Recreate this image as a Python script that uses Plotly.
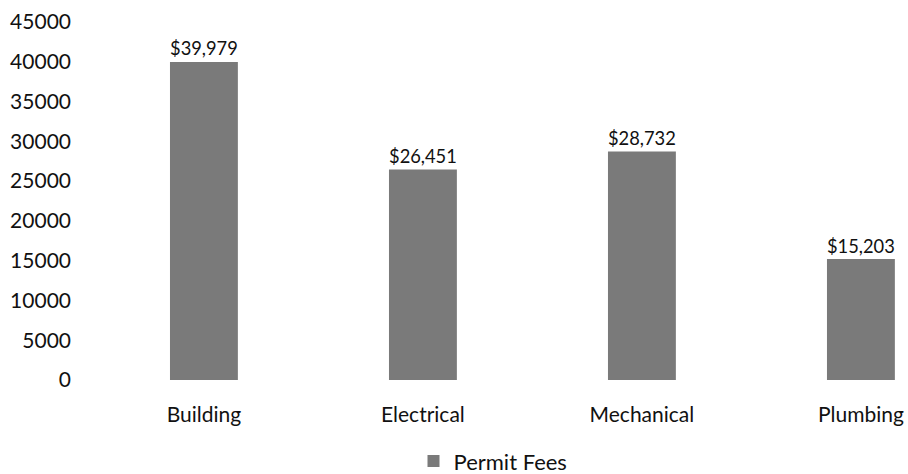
import plotly.graph_objects as go

categories = ["Building", "Electrical", "Mechanical", "Plumbing"]
permit_fees = [39979, 26451, 28732, 15203]
y_ticks = [0, 5000, 10000, 15000, 20000, 25000, 30000, 35000, 40000, 45000]

FONT = "Lato, Carlito, Calibri, sans-serif"

fig = go.Figure()
fig.add_trace(go.Bar(
    x=categories,
    y=permit_fees,
    name="Permit Fees",
    marker=dict(color="#7a7a7a", line=dict(width=0)),
    texttemplate="$%{y:,}",
    textposition="outside",
    textfont=dict(size=21, color="#111111", family=FONT),
    cliponaxis=False,
))

fig.update_layout(
    width=908, height=474,
    margin=dict(l=78, r=0, t=22, b=94, autoexpand=False),
    paper_bgcolor="white", plot_bgcolor="white",
    font=dict(family=FONT, size=21, color="#111111"),
    bargap=0.69,
    showlegend=True,
    legend=dict(orientation="h", x=0.5, xanchor="center", y=-0.168, yanchor="top",
                font=dict(size=22), itemwidth=30),
    xaxis=dict(range=[-0.575, 3.215], showline=False, showgrid=False, ticks="",
               automargin=False, ticklabelstandoff=20, tickfont=dict(size=21)),
    yaxis=dict(range=[0, 45000], tickvals=y_ticks, ticktext=[str(v) for v in y_ticks],
               showgrid=False, zeroline=False, showline=False, ticks="",
               automargin=False, ticklabelstandoff=6, tickfont=dict(size=21)),
)

fig.write_html(
    "out.html",
    config={"displayModeBar": False},
    post_script="document.body.style.margin='0';document.body.style.overflow='hidden';",
)
